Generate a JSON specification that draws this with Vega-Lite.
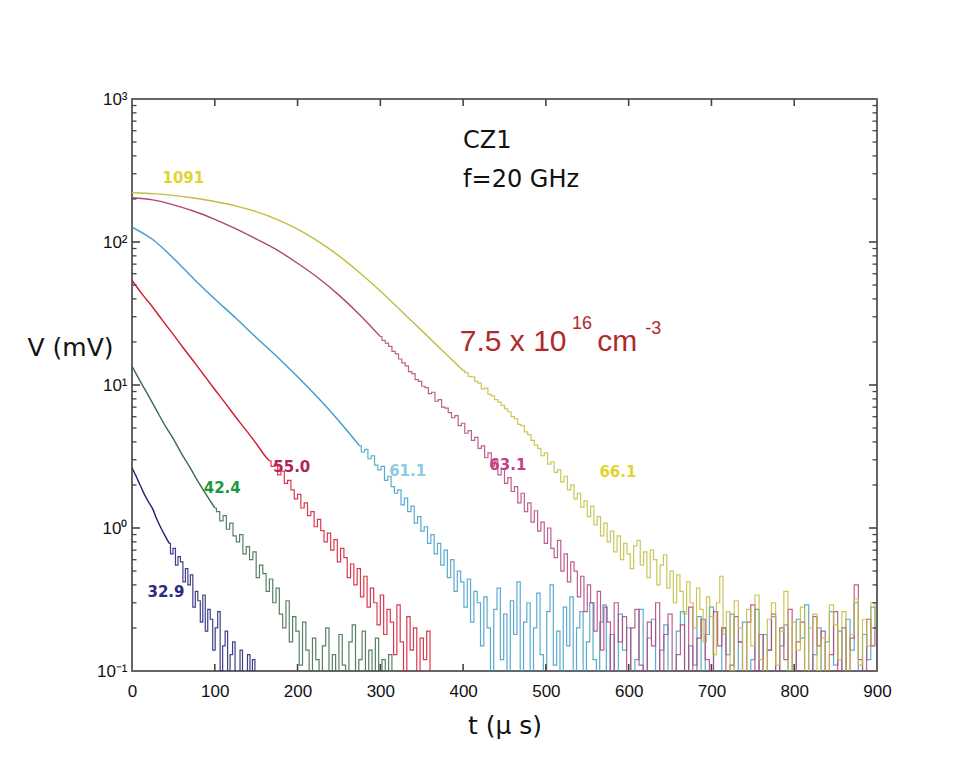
{
  "$schema": "https://vega.github.io/schema/vega-lite/v6.json",
  "width": 745,
  "height": 572,
  "autosize": {"type": "none"},
  "padding": {"left": 132, "top": 99, "right": 77, "bottom": 113},
  "config": {
    "view": {"stroke": "#666666", "strokeWidth": 2}
  },
  "datasets": {
    "smooth": [
      {"s":"n","t":0,"v":2.64},{"s":"n","t":5,"v":2.3},{"s":"n","t":10,"v":1.98},{"s":"n","t":15,"v":1.72},{"s":"n","t":20,"v":1.52},{"s":"n","t":25,"v":1.36},{"s":"n","t":30,"v":1.15},{"s":"n","t":35,"v":1.0},{"s":"n","t":40,"v":0.88},{"s":"n","t":45,"v":0.78},
      {"s":"g","t":0,"v":13.5},{"s":"g","t":10,"v":10.6},{"s":"g","t":20,"v":8.4},{"s":"g","t":30,"v":6.6},{"s":"g","t":40,"v":5.2},{"s":"g","t":50,"v":4.2},{"s":"g","t":60,"v":3.3},{"s":"g","t":70,"v":2.65},{"s":"g","t":80,"v":2.1},{"s":"g","t":90,"v":1.7},{"s":"g","t":100,"v":1.38},
      {"s":"r","t":0,"v":54},{"s":"r","t":12.5,"v":43},{"s":"r","t":25,"v":35},{"s":"r","t":37.5,"v":28},{"s":"r","t":50,"v":22.5},{"s":"r","t":62.5,"v":18},{"s":"r","t":75,"v":14.5},{"s":"r","t":87.5,"v":11.6},{"s":"r","t":100,"v":9.3},{"s":"r","t":112.5,"v":7.5},{"s":"r","t":125,"v":6.0},{"s":"r","t":137.5,"v":4.85},{"s":"r","t":150,"v":3.9},{"s":"r","t":162.5,"v":3.1},{"s":"r","t":166,"v":2.95},
      {"s":"b","t":0,"v":127},{"s":"b","t":25,"v":104},{"s":"b","t":50,"v":77},{"s":"b","t":75,"v":55},{"s":"b","t":100,"v":40},{"s":"b","t":125,"v":29.5},{"s":"b","t":150,"v":21.5},{"s":"b","t":175,"v":15.8},{"s":"b","t":200,"v":11.4},{"s":"b","t":225,"v":8.1},{"s":"b","t":250,"v":5.6},{"s":"b","t":275,"v":3.75},
      {"s":"m","t":0,"v":204},{"s":"m","t":25,"v":197},{"s":"m","t":50,"v":182},{"s":"m","t":75,"v":164},{"s":"m","t":100,"v":144},{"s":"m","t":125,"v":124},{"s":"m","t":150,"v":105},{"s":"m","t":175,"v":88},{"s":"m","t":200,"v":71},{"s":"m","t":225,"v":56},{"s":"m","t":250,"v":42.5},{"s":"m","t":275,"v":31},{"s":"m","t":300,"v":21.8},
      {"s":"y","t":0,"v":221},{"s":"y","t":25,"v":218},{"s":"y","t":50,"v":212},{"s":"y","t":75,"v":203},{"s":"y","t":100,"v":192},{"s":"y","t":125,"v":179},{"s":"y","t":150,"v":163},{"s":"y","t":175,"v":144},{"s":"y","t":200,"v":123},{"s":"y","t":225,"v":101},{"s":"y","t":250,"v":80},{"s":"y","t":275,"v":61},{"s":"y","t":300,"v":45.5},{"s":"y","t":325,"v":33},{"s":"y","t":350,"v":24},{"s":"y","t":375,"v":17.4},{"s":"y","t":400,"v":12.6}
    ],
    "noisy": [
      {"s":"n","t":45,"v":0.78},{"s":"n","t":48,"v":0.66},{"s":"n","t":51,"v":0.72},{"s":"n","t":54,"v":0.55},{"s":"n","t":57,"v":0.63},{"s":"n","t":60,"v":0.58},{"s":"n","t":63,"v":0.42},{"s":"n","t":66,"v":0.52},{"s":"n","t":69,"v":0.4},{"s":"n","t":72,"v":0.47},{"s":"n","t":75,"v":0.28},{"s":"n","t":78,"v":0.36},{"s":"n","t":81,"v":0.31},{"s":"n","t":84,"v":0.22},{"s":"n","t":87,"v":0.34},{"s":"n","t":90,"v":0.19},{"s":"n","t":93,"v":0.27},{"s":"n","t":96,"v":0.23},{"s":"n","t":99,"v":0.14},{"s":"n","t":102,"v":0.2},{"s":"n","t":105,"v":0.26},{"s":"n","t":108,"v":0.1},{"s":"n","t":111,"v":0.15},{"s":"n","t":114,"v":0.19},{"s":"n","t":117,"v":0.07},{"s":"n","t":120,"v":0.13},{"s":"n","t":123,"v":0.16},{"s":"n","t":126,"v":0.06},{"s":"n","t":129,"v":0.09},{"s":"n","t":132,"v":0.14},{"s":"n","t":135,"v":0.05},{"s":"n","t":138,"v":0.08},{"s":"n","t":141,"v":0.13},{"s":"n","t":144,"v":0.06},{"s":"n","t":147,"v":0.12},{"s":"n","t":150,"v":0.05},{"s":"n","t":153,"v":0.04},
      {"s":"g","t":100,"v":1.38},{"s":"g","t":104,"v":1.3},{"s":"g","t":108,"v":1.12},{"s":"g","t":112,"v":1.22},{"s":"g","t":116,"v":0.98},{"s":"g","t":120,"v":1.08},{"s":"g","t":124,"v":0.88},{"s":"g","t":128,"v":0.8},{"s":"g","t":132,"v":0.9},{"s":"g","t":136,"v":0.66},{"s":"g","t":140,"v":0.74},{"s":"g","t":144,"v":0.6},{"s":"g","t":148,"v":0.68},{"s":"g","t":152,"v":0.45},{"s":"g","t":156,"v":0.55},{"s":"g","t":160,"v":0.48},{"s":"g","t":164,"v":0.36},{"s":"g","t":168,"v":0.44},{"s":"g","t":172,"v":0.3},{"s":"g","t":176,"v":0.38},{"s":"g","t":180,"v":0.25},{"s":"g","t":184,"v":0.2},{"s":"g","t":188,"v":0.31},{"s":"g","t":192,"v":0.16},{"s":"g","t":196,"v":0.24},{"s":"g","t":200,"v":0.19},{"s":"g","t":204,"v":0.11},{"s":"g","t":208,"v":0.22},{"s":"g","t":212,"v":0.14},{"s":"g","t":216,"v":0.08},{"s":"g","t":220,"v":0.17},{"s":"g","t":224,"v":0.12},{"s":"g","t":228,"v":0.06},{"s":"g","t":232,"v":0.15},{"s":"g","t":236,"v":0.2},{"s":"g","t":240,"v":0.09},{"s":"g","t":244,"v":0.13},{"s":"g","t":248,"v":0.07},{"s":"g","t":252,"v":0.18},{"s":"g","t":256,"v":0.11},{"s":"g","t":260,"v":0.06},{"s":"g","t":264,"v":0.16},{"s":"g","t":268,"v":0.21},{"s":"g","t":272,"v":0.08},{"s":"g","t":276,"v":0.12},{"s":"g","t":280,"v":0.19},{"s":"g","t":284,"v":0.07},{"s":"g","t":288,"v":0.14},{"s":"g","t":292,"v":0.1},{"s":"g","t":296,"v":0.17},{"s":"g","t":300,"v":0.06},{"s":"g","t":304,"v":0.12},{"s":"g","t":308,"v":0.09},{"s":"g","t":312,"v":0.13},{"s":"g","t":316,"v":0.05},
      {"s":"r","t":166,"v":2.95},{"s":"r","t":170,"v":2.7},{"s":"r","t":174,"v":2.8},{"s":"r","t":178,"v":2.35},{"s":"r","t":182,"v":2.5},{"s":"r","t":186,"v":2.05},{"s":"r","t":190,"v":2.15},{"s":"r","t":194,"v":1.85},{"s":"r","t":198,"v":1.6},{"s":"r","t":202,"v":1.72},{"s":"r","t":206,"v":1.38},{"s":"r","t":210,"v":1.5},{"s":"r","t":214,"v":1.22},{"s":"r","t":218,"v":1.3},{"s":"r","t":222,"v":1.02},{"s":"r","t":226,"v":1.15},{"s":"r","t":230,"v":0.96},{"s":"r","t":234,"v":0.8},{"s":"r","t":238,"v":0.92},{"s":"r","t":242,"v":0.7},{"s":"r","t":246,"v":0.83},{"s":"r","t":250,"v":0.58},{"s":"r","t":254,"v":0.72},{"s":"r","t":258,"v":0.62},{"s":"r","t":262,"v":0.45},{"s":"r","t":266,"v":0.56},{"s":"r","t":270,"v":0.4},{"s":"r","t":274,"v":0.52},{"s":"r","t":278,"v":0.33},{"s":"r","t":282,"v":0.46},{"s":"r","t":286,"v":0.28},{"s":"r","t":290,"v":0.38},{"s":"r","t":294,"v":0.3},{"s":"r","t":298,"v":0.21},{"s":"r","t":302,"v":0.34},{"s":"r","t":306,"v":0.18},{"s":"r","t":310,"v":0.27},{"s":"r","t":314,"v":0.22},{"s":"r","t":318,"v":0.13},{"s":"r","t":322,"v":0.29},{"s":"r","t":326,"v":0.16},{"s":"r","t":330,"v":0.1},{"s":"r","t":334,"v":0.24},{"s":"r","t":338,"v":0.14},{"s":"r","t":342,"v":0.2},{"s":"r","t":346,"v":0.08},{"s":"r","t":350,"v":0.17},{"s":"r","t":354,"v":0.12},{"s":"r","t":358,"v":0.19},{"s":"r","t":362,"v":0.06},
      {"s":"b","t":275,"v":3.75},{"s":"b","t":279,"v":3.4},{"s":"b","t":283,"v":3.55},{"s":"b","t":287,"v":3.05},{"s":"b","t":291,"v":3.2},{"s":"b","t":295,"v":2.75},{"s":"b","t":299,"v":2.55},{"s":"b","t":303,"v":2.7},{"s":"b","t":307,"v":2.15},{"s":"b","t":311,"v":2.3},{"s":"b","t":315,"v":1.95},{"s":"b","t":319,"v":1.75},{"s":"b","t":323,"v":1.85},{"s":"b","t":327,"v":1.45},{"s":"b","t":331,"v":1.62},{"s":"b","t":335,"v":1.3},{"s":"b","t":339,"v":1.42},{"s":"b","t":343,"v":1.08},{"s":"b","t":347,"v":1.2},{"s":"b","t":351,"v":0.95},{"s":"b","t":355,"v":1.02},{"s":"b","t":359,"v":0.78},{"s":"b","t":363,"v":0.9},{"s":"b","t":367,"v":0.66},{"s":"b","t":371,"v":0.78},{"s":"b","t":375,"v":0.55},{"s":"b","t":379,"v":0.7},{"s":"b","t":383,"v":0.45},{"s":"b","t":387,"v":0.6},{"s":"b","t":391,"v":0.36},{"s":"b","t":395,"v":0.5},{"s":"b","t":399,"v":0.42},{"s":"b","t":403,"v":0.28},{"s":"b","t":407,"v":0.44},{"s":"b","t":411,"v":0.22},{"s":"b","t":415,"v":0.36},{"s":"b","t":419,"v":0.3},{"s":"b","t":423,"v":0.15},{"s":"b","t":427,"v":0.33},{"s":"b","t":431,"v":0.2},{"s":"b","t":435,"v":0.09},{"s":"b","t":439,"v":0.27},{"s":"b","t":443,"v":0.38},{"s":"b","t":447,"v":0.12},{"s":"b","t":451,"v":0.25},{"s":"b","t":455,"v":0.07},{"s":"b","t":459,"v":0.31},{"s":"b","t":463,"v":0.18},{"s":"b","t":467,"v":0.42},{"s":"b","t":471,"v":0.1},{"s":"b","t":475,"v":0.22},{"s":"b","t":479,"v":0.3},{"s":"b","t":483,"v":0.06},{"s":"b","t":487,"v":0.2},{"s":"b","t":491,"v":0.35},{"s":"b","t":495,"v":0.13},{"s":"b","t":499,"v":0.08},{"s":"b","t":503,"v":0.26},{"s":"b","t":507,"v":0.4},{"s":"b","t":511,"v":0.11},{"s":"b","t":515,"v":0.19},{"s":"b","t":519,"v":0.06},{"s":"b","t":523,"v":0.28},{"s":"b","t":527,"v":0.15},{"s":"b","t":531,"v":0.33},{"s":"b","t":535,"v":0.09},{"s":"b","t":539,"v":0.2},{"s":"b","t":543,"v":0.26},{"s":"b","t":547,"v":0.07},{"s":"b","t":551,"v":0.16},{"s":"b","t":555,"v":0.3},{"s":"b","t":559,"v":0.12},{"s":"b","t":563,"v":0.05},{"s":"b","t":567,"v":0.22},{"s":"b","t":571,"v":0.29},{"s":"b","t":575,"v":0.1},{"s":"b","t":580,"v":0.18},{"s":"b","t":585,"v":0.07},{"s":"b","t":590,"v":0.25},{"s":"b","t":595,"v":0.14},{"s":"b","t":600,"v":0.2},{"s":"b","t":605,"v":0.06},{"s":"b","t":610,"v":0.12},{"s":"b","t":615,"v":0.27},{"s":"b","t":620,"v":0.09},{"s":"b","t":625,"v":0.17},{"s":"b","t":630,"v":0.23},{"s":"b","t":635,"v":0.06},{"s":"b","t":640,"v":0.14},{"s":"b","t":645,"v":0.21},{"s":"b","t":650,"v":0.1},{"s":"b","t":655,"v":0.05},{"s":"b","t":660,"v":0.19},{"s":"b","t":665,"v":0.26},{"s":"b","t":670,"v":0.08},{"s":"b","t":675,"v":0.15},{"s":"b","t":680,"v":0.11},{"s":"b","t":685,"v":0.24},{"s":"b","t":690,"v":0.07},{"s":"b","t":695,"v":0.18},{"s":"b","t":700,"v":0.28},{"s":"b","t":705,"v":0.1},{"s":"b","t":710,"v":0.06},{"s":"b","t":715,"v":0.2},{"s":"b","t":720,"v":0.13},{"s":"b","t":725,"v":0.25},{"s":"b","t":730,"v":0.08},{"s":"b","t":735,"v":0.16},{"s":"b","t":740,"v":0.22},{"s":"b","t":745,"v":0.06},{"s":"b","t":750,"v":0.12},{"s":"b","t":755,"v":0.27},{"s":"b","t":760,"v":0.09},{"s":"b","t":765,"v":0.18},{"s":"b","t":770,"v":0.14},{"s":"b","t":775,"v":0.24},{"s":"b","t":780,"v":0.05},{"s":"b","t":785,"v":0.15},{"s":"b","t":790,"v":0.21},{"s":"b","t":795,"v":0.1},{"s":"b","t":800,"v":0.07},{"s":"b","t":805,"v":0.23},{"s":"b","t":810,"v":0.17},{"s":"b","t":815,"v":0.29},{"s":"b","t":820,"v":0.08},{"s":"b","t":825,"v":0.13},{"s":"b","t":830,"v":0.2},{"s":"b","t":835,"v":0.06},{"s":"b","t":840,"v":0.16},{"s":"b","t":845,"v":0.26},{"s":"b","t":850,"v":0.11},{"s":"b","t":855,"v":0.19},{"s":"b","t":860,"v":0.07},{"s":"b","t":865,"v":0.23},{"s":"b","t":870,"v":0.14},{"s":"b","t":875,"v":0.3},{"s":"b","t":880,"v":0.09},{"s":"b","t":885,"v":0.18},{"s":"b","t":890,"v":0.12},{"s":"b","t":895,"v":0.28},{"s":"b","t":900,"v":0.2},
      {"s":"m","t":300,"v":21.8},{"s":"m","t":304,"v":20.5},{"s":"m","t":308,"v":19.6},{"s":"m","t":312,"v":18.6},{"s":"m","t":316,"v":17.2},{"s":"m","t":320,"v":16.5},{"s":"m","t":324,"v":15.2},{"s":"m","t":328,"v":14.3},{"s":"m","t":332,"v":13.6},{"s":"m","t":336,"v":12.4},{"s":"m","t":340,"v":12.0},{"s":"m","t":344,"v":10.9},{"s":"m","t":348,"v":10.6},{"s":"m","t":352,"v":9.8},{"s":"m","t":356,"v":9.6},{"s":"m","t":360,"v":8.7},{"s":"m","t":364,"v":8.9},{"s":"m","t":368,"v":7.7},{"s":"m","t":372,"v":7.9},{"s":"m","t":376,"v":7.0},{"s":"m","t":380,"v":6.9},{"s":"m","t":384,"v":6.4},{"s":"m","t":388,"v":5.9},{"s":"m","t":392,"v":6.1},{"s":"m","t":396,"v":5.2},{"s":"m","t":400,"v":5.4},{"s":"m","t":404,"v":4.6},{"s":"m","t":408,"v":4.8},{"s":"m","t":412,"v":4.1},{"s":"m","t":416,"v":4.3},{"s":"m","t":420,"v":3.6},{"s":"m","t":424,"v":3.75},{"s":"m","t":428,"v":3.1},{"s":"m","t":432,"v":3.35},{"s":"m","t":436,"v":2.7},{"s":"m","t":440,"v":2.95},{"s":"m","t":444,"v":2.35},{"s":"m","t":448,"v":2.6},{"s":"m","t":452,"v":2.05},{"s":"m","t":456,"v":2.25},{"s":"m","t":460,"v":1.8},{"s":"m","t":464,"v":1.95},{"s":"m","t":468,"v":1.5},{"s":"m","t":472,"v":1.75},{"s":"m","t":476,"v":1.3},{"s":"m","t":480,"v":1.5},{"s":"m","t":484,"v":1.1},{"s":"m","t":488,"v":1.32},{"s":"m","t":492,"v":0.95},{"s":"m","t":496,"v":1.1},{"s":"m","t":500,"v":0.78},{"s":"m","t":504,"v":1.0},{"s":"m","t":508,"v":0.72},{"s":"m","t":512,"v":0.62},{"s":"m","t":516,"v":0.82},{"s":"m","t":520,"v":0.5},{"s":"m","t":524,"v":0.66},{"s":"m","t":528,"v":0.42},{"s":"m","t":532,"v":0.58},{"s":"m","t":536,"v":0.5},{"s":"m","t":540,"v":0.33},{"s":"m","t":544,"v":0.46},{"s":"m","t":548,"v":0.26},{"s":"m","t":552,"v":0.4},{"s":"m","t":556,"v":0.3},{"s":"m","t":560,"v":0.19},{"s":"m","t":564,"v":0.36},{"s":"m","t":568,"v":0.14},{"s":"m","t":572,"v":0.28},{"s":"m","t":576,"v":0.22},{"s":"m","t":580,"v":0.1},{"s":"m","t":585,"v":0.3},{"s":"m","t":590,"v":0.16},{"s":"m","t":595,"v":0.24},{"s":"m","t":600,"v":0.08},{"s":"m","t":605,"v":0.2},{"s":"m","t":610,"v":0.27},{"s":"m","t":615,"v":0.11},{"s":"m","t":620,"v":0.06},{"s":"m","t":625,"v":0.22},{"s":"m","t":630,"v":0.15},{"s":"m","t":635,"v":0.3},{"s":"m","t":640,"v":0.09},{"s":"m","t":645,"v":0.18},{"s":"m","t":650,"v":0.25},{"s":"m","t":655,"v":0.07},{"s":"m","t":660,"v":0.13},{"s":"m","t":665,"v":0.21},{"s":"m","t":670,"v":0.1},{"s":"m","t":675,"v":0.28},{"s":"m","t":680,"v":0.06},{"s":"m","t":685,"v":0.17},{"s":"m","t":690,"v":0.23},{"s":"m","t":695,"v":0.12},{"s":"m","t":700,"v":0.08},{"s":"m","t":705,"v":0.26},{"s":"m","t":710,"v":0.15},{"s":"m","t":715,"v":0.2},{"s":"m","t":720,"v":0.06},{"s":"m","t":725,"v":0.11},{"s":"m","t":730,"v":0.24},{"s":"m","t":735,"v":0.16},{"s":"m","t":740,"v":0.07},{"s":"m","t":745,"v":0.22},{"s":"m","t":750,"v":0.29},{"s":"m","t":755,"v":0.1},{"s":"m","t":760,"v":0.18},{"s":"m","t":765,"v":0.05},{"s":"m","t":770,"v":0.14},{"s":"m","t":775,"v":0.25},{"s":"m","t":780,"v":0.09},{"s":"m","t":785,"v":0.2},{"s":"m","t":790,"v":0.12},{"s":"m","t":795,"v":0.27},{"s":"m","t":800,"v":0.07},{"s":"m","t":805,"v":0.16},{"s":"m","t":810,"v":0.22},{"s":"m","t":815,"v":0.1},{"s":"m","t":820,"v":0.06},{"s":"m","t":825,"v":0.24},{"s":"m","t":830,"v":0.15},{"s":"m","t":835,"v":0.19},{"s":"m","t":840,"v":0.08},{"s":"m","t":845,"v":0.13},{"s":"m","t":850,"v":0.26},{"s":"m","t":855,"v":0.1},{"s":"m","t":860,"v":0.2},{"s":"m","t":865,"v":0.06},{"s":"m","t":870,"v":0.17},{"s":"m","t":875,"v":0.4},{"s":"m","t":880,"v":0.12},{"s":"m","t":885,"v":0.08},{"s":"m","t":890,"v":0.23},{"s":"m","t":895,"v":0.15},{"s":"m","t":900,"v":0.2},
      {"s":"y","t":400,"v":12.6},{"s":"y","t":404,"v":12.2},{"s":"y","t":408,"v":11.5},{"s":"y","t":412,"v":11.4},{"s":"y","t":416,"v":10.6},{"s":"y","t":420,"v":10.3},{"s":"y","t":424,"v":9.4},{"s":"y","t":428,"v":9.5},{"s":"y","t":432,"v":8.6},{"s":"y","t":436,"v":8.4},{"s":"y","t":440,"v":7.9},{"s":"y","t":444,"v":7.6},{"s":"y","t":448,"v":7.2},{"s":"y","t":452,"v":6.8},{"s":"y","t":456,"v":6.5},{"s":"y","t":460,"v":6.0},{"s":"y","t":464,"v":5.8},{"s":"y","t":468,"v":5.3},{"s":"y","t":472,"v":5.2},{"s":"y","t":476,"v":4.7},{"s":"y","t":480,"v":4.5},{"s":"y","t":484,"v":4.1},{"s":"y","t":488,"v":3.8},{"s":"y","t":492,"v":3.6},{"s":"y","t":496,"v":3.2},{"s":"y","t":500,"v":3.35},{"s":"y","t":504,"v":2.8},{"s":"y","t":508,"v":2.9},{"s":"y","t":512,"v":2.45},{"s":"y","t":516,"v":2.55},{"s":"y","t":520,"v":2.1},{"s":"y","t":524,"v":2.3},{"s":"y","t":528,"v":1.85},{"s":"y","t":532,"v":2.0},{"s":"y","t":536,"v":1.6},{"s":"y","t":540,"v":1.75},{"s":"y","t":544,"v":1.4},{"s":"y","t":548,"v":1.55},{"s":"y","t":552,"v":1.2},{"s":"y","t":556,"v":1.42},{"s":"y","t":560,"v":1.05},{"s":"y","t":564,"v":1.2},{"s":"y","t":568,"v":0.88},{"s":"y","t":572,"v":1.08},{"s":"y","t":576,"v":0.8},{"s":"y","t":580,"v":0.95},{"s":"y","t":584,"v":0.68},{"s":"y","t":588,"v":0.88},{"s":"y","t":592,"v":0.6},{"s":"y","t":596,"v":0.78},{"s":"y","t":600,"v":0.66},{"s":"y","t":604,"v":0.52},{"s":"y","t":608,"v":0.75},{"s":"y","t":612,"v":0.82},{"s":"y","t":616,"v":0.55},{"s":"y","t":620,"v":0.68},{"s":"y","t":624,"v":0.45},{"s":"y","t":628,"v":0.7},{"s":"y","t":632,"v":0.6},{"s":"y","t":636,"v":0.4},{"s":"y","t":640,"v":0.55},{"s":"y","t":644,"v":0.65},{"s":"y","t":648,"v":0.38},{"s":"y","t":652,"v":0.5},{"s":"y","t":656,"v":0.3},{"s":"y","t":660,"v":0.47},{"s":"y","t":664,"v":0.36},{"s":"y","t":668,"v":0.25},{"s":"y","t":672,"v":0.42},{"s":"y","t":676,"v":0.3},{"s":"y","t":680,"v":0.2},{"s":"y","t":684,"v":0.38},{"s":"y","t":688,"v":0.27},{"s":"y","t":692,"v":0.16},{"s":"y","t":696,"v":0.33},{"s":"y","t":700,"v":0.24},{"s":"y","t":704,"v":0.13},{"s":"y","t":708,"v":0.3},{"s":"y","t":712,"v":0.46},{"s":"y","t":716,"v":0.18},{"s":"y","t":720,"v":0.26},{"s":"y","t":725,"v":0.1},{"s":"y","t":730,"v":0.31},{"s":"y","t":735,"v":0.2},{"s":"y","t":740,"v":0.08},{"s":"y","t":745,"v":0.27},{"s":"y","t":750,"v":0.15},{"s":"y","t":755,"v":0.34},{"s":"y","t":760,"v":0.12},{"s":"y","t":765,"v":0.07},{"s":"y","t":770,"v":0.23},{"s":"y","t":775,"v":0.3},{"s":"y","t":780,"v":0.11},{"s":"y","t":785,"v":0.19},{"s":"y","t":790,"v":0.36},{"s":"y","t":795,"v":0.09},{"s":"y","t":800,"v":0.22},{"s":"y","t":805,"v":0.14},{"s":"y","t":810,"v":0.28},{"s":"y","t":815,"v":0.06},{"s":"y","t":820,"v":0.2},{"s":"y","t":825,"v":0.25},{"s":"y","t":830,"v":0.1},{"s":"y","t":835,"v":0.17},{"s":"y","t":840,"v":0.07},{"s":"y","t":845,"v":0.29},{"s":"y","t":850,"v":0.21},{"s":"y","t":855,"v":0.12},{"s":"y","t":860,"v":0.26},{"s":"y","t":865,"v":0.08},{"s":"y","t":870,"v":0.18},{"s":"y","t":875,"v":0.32},{"s":"y","t":880,"v":0.11},{"s":"y","t":885,"v":0.23},{"s":"y","t":890,"v":0.15},{"s":"y","t":895,"v":0.3},{"s":"y","t":900,"v":0.2}
    ],
    "labels": [
      {"s":"n","t":41,"v":0.357,"label":"32.9"},
      {"s":"g","t":109,"v":1.9,"label":"42.4"},
      {"s":"r","t":193,"v":2.67,"label":"55.0"},
      {"s":"b","t":333,"v":2.5,"label":"61.1"},
      {"s":"m","t":454,"v":2.76,"label":"63.1"},
      {"s":"y","t":587,"v":2.46,"label":"66.1"},
      {"s":"y","t":62,"v":280,"label":"1091"}
    ],
    "notes": [
      {"t":400,"v":454,"label":"CZ1"},
      {"t":400,"v":242.6,"label":"f=20 GHz"}
    ],
    "conc": [
      {"t":396,"v":17.3,"label":"7.5 x 10"},
      {"t":562,"v":17.3,"label":"cm"}
    ],
    "concsup": [
      {"t":531.5,"v":24.6,"label":"16"},
      {"t":620,"v":22.7,"label":"-3"}
    ],
    "xticks": [{"t":100},{"t":200},{"t":300},{"t":400},{"t":500},{"t":600},{"t":700},{"t":800}],
    "ymajor": [{"v":1},{"v":10},{"v":100}],
    "yminor": [{"v":0.2},{"v":0.3},{"v":0.4},{"v":0.5},{"v":0.6},{"v":0.7},{"v":0.8},{"v":0.9},{"v":2},{"v":3},{"v":4},{"v":5},{"v":6},{"v":7},{"v":8},{"v":9},{"v":20},{"v":30},{"v":40},{"v":50},{"v":60},{"v":70},{"v":80},{"v":90},{"v":200},{"v":300},{"v":400},{"v":500},{"v":600},{"v":700},{"v":800},{"v":900}]
  },
  "resolve": {"scale": {"color": "independent"}},
  "layer": [
    {
      "data": {"name": "smooth"},
      "mark": {"type": "line", "clip": true, "strokeWidth": 1.4, "interpolate": "monotone"},
      "encoding": {
        "x": {"field": "t", "type": "quantitative",
          "scale": {"domain": [0, 900], "nice": false, "zero": false},
          "axis": {"orient": "bottom", "values": [0,100,200,300,400,500,600,700,800,900], "format": "d", "grid": false, "domain": false, "ticks": false, "labelFlush": false,
            "labelPadding": 12, "labelFont": "Liberation Sans", "labelFontSize": 17, "labelColor": "#111111",
            "title": "t (μ s)", "titleFont": "DejaVu Sans", "titleFontSize": 25, "titleFontWeight": "normal", "titleColor": "#111111",
            "titleBaseline": "alphabetic", "titleY": 62}},
        "y": {"field": "v", "type": "quantitative",
          "scale": {"type": "log", "domain": [0.1, 1000], "nice": false},
          "axis": {"orient": "left", "values": [0.1, 1, 10, 100, 1000], "grid": false, "domain": false, "ticks": false, "labelFlush": false,
            "labelExpr": "datum.value < 0.5 ? '10⁻¹' : datum.value < 5 ? '10⁰' : datum.value < 50 ? '10¹' : datum.value < 500 ? '10²' : '10³'",
            "labelPadding": 5, "labelFont": "Liberation Sans", "labelFontSize": 17, "labelColor": "#111111",
            "title": "V (mV)", "titleFont": "DejaVu Sans", "titleFontSize": 25, "titleFontWeight": "normal", "titleColor": "#111111",
            "titleAngle": 0, "titleAlign": "left", "titleBaseline": "alphabetic", "titleX": -105, "titleY": 256}},
        "color": {"field": "s", "type": "nominal",
          "scale": {"domain": ["n","g","r","b","m","y"], "range": ["#1f1f73","#3b6a4b","#d3172f","#3f9cc6","#b1437c","#c3bd3f"]},
          "legend": null}
      }
    },
    {
      "data": {"name": "noisy"},
      "mark": {"type": "line", "clip": true, "strokeWidth": 1.2, "interpolate": "step", "opacity": 0.85},
      "encoding": {
        "x": {"field": "t", "type": "quantitative"},
        "y": {"field": "v", "type": "quantitative"},
        "color": {"field": "s", "type": "nominal",
          "scale": {"domain": ["n","g","r","b","m","y"], "range": ["#1f1f73","#3b6a4b","#d3172f","#3f9cc6","#b1437c","#c3bd3f"]},
          "legend": null}
      }
    },
    {
      "data": {"name": "labels"},
      "mark": {"type": "text", "font": "DejaVu Sans", "fontSize": 15, "fontWeight": "bold", "align": "center", "baseline": "middle"},
      "encoding": {
        "x": {"field": "t", "type": "quantitative"},
        "y": {"field": "v", "type": "quantitative"},
        "text": {"field": "label"},
        "color": {"field": "s", "type": "nominal",
          "scale": {"domain": ["n","g","r","b","m","y"], "range": ["#2b2b80","#1a9a3c","#b5215c","#8ccbe3","#c4408a","#e2d42e"]},
          "legend": null}
      }
    },
    {
      "data": {"name": "notes"},
      "mark": {"type": "text", "font": "DejaVu Sans", "fontSize": 24, "align": "left", "baseline": "alphabetic", "color": "#111111"},
      "encoding": {
        "x": {"field": "t", "type": "quantitative"},
        "y": {"field": "v", "type": "quantitative"},
        "text": {"field": "label"}
      }
    },
    {
      "data": {"name": "conc"},
      "mark": {"type": "text", "font": "Liberation Sans", "fontSize": 30, "align": "left", "baseline": "alphabetic", "color": "#b02a2a"},
      "encoding": {
        "x": {"field": "t", "type": "quantitative"},
        "y": {"field": "v", "type": "quantitative"},
        "text": {"field": "label"}
      }
    },
    {
      "data": {"name": "concsup"},
      "mark": {"type": "text", "font": "Liberation Sans", "fontSize": 18, "align": "left", "baseline": "alphabetic", "color": "#b02a2a"},
      "encoding": {
        "x": {"field": "t", "type": "quantitative"},
        "y": {"field": "v", "type": "quantitative"},
        "text": {"field": "label"}
      }
    },
    {
      "data": {"name": "xticks"},
      "mark": {"type": "tick", "orient": "vertical", "size": 14, "thickness": 1.6, "color": "#444444", "opacity": 1, "clip": true},
      "encoding": {
        "x": {"field": "t", "type": "quantitative"},
        "y": {"datum": 0.1, "type": "quantitative"}
      }
    },
    {
      "data": {"name": "xticks"},
      "mark": {"type": "tick", "orient": "vertical", "size": 14, "thickness": 1.6, "color": "#444444", "opacity": 1, "clip": true},
      "encoding": {
        "x": {"field": "t", "type": "quantitative"},
        "y": {"datum": 1000, "type": "quantitative"}
      }
    },
    {
      "data": {"name": "ymajor"},
      "mark": {"type": "tick", "orient": "horizontal", "size": 16, "thickness": 1.6, "color": "#444444", "opacity": 1, "clip": true},
      "encoding": {
        "y": {"field": "v", "type": "quantitative"},
        "x": {"datum": 0, "type": "quantitative"}
      }
    },
    {
      "data": {"name": "ymajor"},
      "mark": {"type": "tick", "orient": "horizontal", "size": 16, "thickness": 1.6, "color": "#444444", "opacity": 1, "clip": true},
      "encoding": {
        "y": {"field": "v", "type": "quantitative"},
        "x": {"datum": 900, "type": "quantitative"}
      }
    },
    {
      "data": {"name": "yminor"},
      "mark": {"type": "tick", "orient": "horizontal", "size": 9, "thickness": 1.3, "color": "#444444", "opacity": 1, "clip": true},
      "encoding": {
        "y": {"field": "v", "type": "quantitative"},
        "x": {"datum": 0, "type": "quantitative"}
      }
    },
    {
      "data": {"name": "yminor"},
      "mark": {"type": "tick", "orient": "horizontal", "size": 9, "thickness": 1.3, "color": "#444444", "opacity": 1, "clip": true},
      "encoding": {
        "y": {"field": "v", "type": "quantitative"},
        "x": {"datum": 900, "type": "quantitative"}
      }
    }
  ]
}
